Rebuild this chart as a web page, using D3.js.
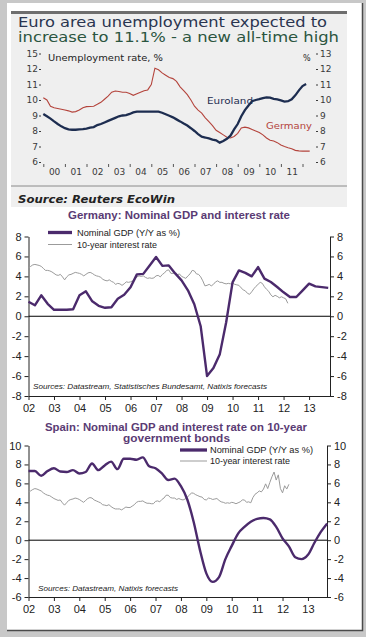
<!DOCTYPE html>
<html><head><meta charset="utf-8">
<script src="https://cdn.jsdelivr.net/npm/d3@7"></script>
<style>body{margin:0;background:#fff}svg{display:block}</style>
</head><body><svg id="c" width="366" height="637"></svg>
<script>
// ---------------- DATA ----------------
// Panel 1: unemployment rate, %, every 2 months from Jan 2000
const unempYearLabels = ["00","01","02","03","04","05","06","07","08","09","10","11"];
const unempTickValues = [13,12,11,10,9,8,7,6];
const unempLeftLabels = ["15","12","11","10","9","8","7","6"];
const unempRightLabels = ["13","12","11","10","9","8","7","6"];
const euroland = [
 9.10,8.95,8.80,8.62,8.45,8.30,
 8.18,8.10,8.08,8.08,8.10,8.12,
 8.15,8.22,8.25,8.38,8.45,8.55,
 8.65,8.75,8.85,8.95,9.00,9.02,
 9.10,9.20,9.25,9.25,9.25,9.25,
 9.25,9.25,9.25,9.18,9.08,8.98,
 8.88,8.75,8.62,8.48,8.35,8.18,
 8.00,7.80,7.63,7.58,7.52,7.45,
 7.40,7.25,7.35,7.50,7.70,8.10,
 8.45,8.95,9.35,9.65,9.92,10.00,
 10.05,10.12,10.17,10.15,10.08,10.04,
 9.98,9.90,9.92,10.05,10.30,10.62,
 10.90,11.03];
const germanyUnemp = [
 10.15,10.00,9.60,9.50,9.45,9.40,
 9.35,9.30,9.22,9.25,9.35,9.50,
 9.57,9.58,9.60,9.72,9.85,10.05,
 10.25,10.50,10.58,10.55,10.50,10.50,
 10.42,10.30,10.40,10.50,10.60,10.65,
 11.00,12.05,11.95,11.75,11.60,11.45,
 11.38,11.20,10.85,10.60,10.35,10.00,
 9.60,9.35,9.15,8.85,8.60,8.35,
 8.05,7.90,7.75,7.60,7.55,7.65,
 7.85,8.20,8.25,8.20,8.10,8.00,
 7.90,7.75,7.55,7.40,7.35,7.25,
 7.10,7.00,6.92,6.85,6.75,6.72,
 6.70,6.70,6.70];

// Panels 2 & 3: x labels, quarterly GDP from 2002Q1, monthly rates from Jan 2002
const gdpYearLabels = ["02","03","04","05","06","07","08","09","10","11","12","13"];
const deTicks = [-8,-6,-4,-2,0,2,4,6,8];
const esTicks = [-6,-4,-2,0,2,4,6,8,10];
const deGdp = [
 1.45,1.1,2.1,1.25, 0.65,0.65,0.65,0.7, 2.1,2.5,1.5,1.05, 0.85,0.9,1.75,2.15,
 2.9,4.2,4.25,5.1, 5.95,5.05,5.1,4.3, 3.6,2.6,1.2,-1.0, -6.0,-5.2,-3.8,-0.6,
 3.4,4.6,4.35,4.0, 4.93,3.77,3.43,2.93, 2.4,1.93,1.93,2.6, 3.27,3.0,2.92,2.85];
const deRate = [
 4.85,5.0,5.15,5.2,5.15,5.1,5.0,4.8,4.6,4.6,4.55,4.45,
 4.3,4.15,4.1,4.2,3.95,3.65,3.95,4.15,4.2,4.3,4.4,4.35,
 4.3,4.2,4.05,4.2,4.35,4.4,4.3,4.15,4.05,4.0,3.9,3.7,
 3.6,3.55,3.65,3.5,3.4,3.2,3.3,3.25,3.1,3.25,3.45,3.4,
 3.45,3.55,3.7,3.95,4.05,4.0,4.05,3.9,3.8,3.85,3.8,3.85,
 4.05,4.1,3.95,4.2,4.35,4.6,4.65,4.3,4.3,4.35,4.15,4.25,
 4.0,3.9,3.8,4.05,4.25,4.6,4.55,4.25,4.2,3.95,3.55,3.05,
 3.1,3.2,3.05,3.2,3.45,3.55,3.4,3.4,3.3,3.25,3.3,3.25,
 3.35,3.2,3.15,3.1,2.85,2.65,2.55,2.3,2.2,2.45,2.75,3.0,
 3.2,3.4,3.3,2.95,2.7,2.5,2.15,1.95,2.1,2.0,1.85,1.95,
 1.85,1.75,1.3];
const esGdp = [
 7.3,7.3,6.8,7.3, 7.6,7.25,7.2,7.4, 7.05,7.2,8.1,7.4, 7.9,8.3,7.5,8.6,
 8.6,8.5,8.75,7.8, 7.6,7.05,6.35,6.5, 5.7,4.3,1.95,-1.05, -3.5,-4.4,-3.9,-2.0,
 -0.6,0.7,1.4,1.95, 2.25,2.35,2.2,1.4, 0.2,-0.65,-1.8,-2.0, -1.55,-0.3,0.85,1.75];
const esRate = [
 5.1,5.2,5.35,5.45,5.4,5.3,5.2,5.0,4.85,4.75,4.7,4.55,
 4.4,4.3,4.2,4.25,3.95,3.7,3.95,4.2,4.3,4.35,4.45,4.4,
 4.3,4.15,4.0,4.2,4.4,4.5,4.45,4.25,4.15,4.05,3.95,3.75,
 3.7,3.65,3.75,3.55,3.4,3.3,3.3,3.3,3.2,3.35,3.5,3.45,
 3.45,3.6,3.75,4.0,4.1,4.1,4.15,4.0,3.9,3.9,3.85,3.85,
 4.1,4.15,4.05,4.3,4.45,4.75,4.75,4.5,4.45,4.45,4.3,4.4,
 4.3,4.25,4.35,4.55,4.75,5.0,4.95,4.8,4.7,4.6,4.55,4.3,
 4.25,4.45,4.4,4.3,4.35,4.4,4.2,4.05,4.0,3.9,3.95,3.9,
 4.0,3.95,3.85,3.95,4.05,4.25,4.25,4.0,4.05,3.95,4.5,4.85,
 5.0,5.2,5.1,5.4,5.95,5.45,6.1,6.7,7.2,6.35,6.9,5.45,
 5.0,5.75,5.4,5.9];

// ---------------- DRAW ----------------
const svg = d3.select("#c");
const SANS = "Liberation Sans, Arial, sans-serif";
const WIDE = "DejaVu Sans, Verdana, sans-serif";
const PURPLE = "#4b2a6c", TITLEP = "#5a3b74", GRAY = "#9b9b9b";

// frame
svg.append("rect").attr("width",366).attr("height",637).attr("fill","#c8c8c8");
svg.append("rect").attr("x",7).attr("y",3).attr("width",355).attr("height",627).attr("fill","#fff");
svg.append("path").attr("d","M7,630.5H362.5V3").attr("fill","none").attr("stroke","#4a4a4a").attr("stroke-width",1.5);

// ---- panel 1 ----
svg.append("rect").attr("x",11).attr("y",11).attr("width",336).attr("height",196).attr("fill","#efefef");
svg.append("rect").attr("x",11).attr("y",11).attr("width",336).attr("height",3).attr("fill","#6e6e6e");
svg.append("line").attr("x1",11).attr("x2",347).attr("y1",186).attr("y2",186).attr("stroke","#8a8a8a");

svg.append("text").attr("x",18).attr("y",26.5).attr("font-family",WIDE).attr("font-size",14)
  .attr("fill","#2a3550").attr("textLength",309).attr("lengthAdjust","spacingAndGlyphs")
  .text("Euro area unemployment expected to");
svg.append("text").attr("x",18).attr("y",42).attr("font-family",WIDE).attr("font-size",14)
  .attr("fill","#2b5540").attr("textLength",321).attr("lengthAdjust","spacingAndGlyphs")
  .text("increase to 11.1% - a new all-time high");

const xU = d3.scaleLinear().domain([2000, 2012.5]).range([43.3, 313.3]);
const yU = d3.scaleLinear().domain([6, 13]).range([162, 53.5]);

function styleAxis(g, font, size, color){
  g.attr("font-family", font).attr("font-size", size);
  g.selectAll("text").attr("fill", color);
  g.selectAll("line").attr("stroke", color);
  g.selectAll(".domain").attr("stroke", color);
}
let g = svg.append("g").attr("transform","translate(41,0)")
  .call(d3.axisLeft(yU).tickValues(unempTickValues).tickFormat((d,i)=>unempLeftLabels[i]).tickSize(2).tickPadding(1));
g.select(".domain").remove(); styleAxis(g, WIDE, 9, "#3a3a3a");
g = svg.append("g").attr("transform","translate(316,0)")
  .call(d3.axisRight(yU).tickValues(unempTickValues).tickFormat((d,i)=>unempRightLabels[i]).tickSize(2).tickPadding(2));
g.select(".domain").remove(); styleAxis(g, WIDE, 9, "#3a3a3a");
g = svg.append("g").attr("transform","translate(0,164)")
  .call(d3.axisBottom(xU).tickValues(d3.range(2000,2013)).tickFormat("").tickSize(3));
g.select(".domain").remove(); styleAxis(g, WIDE, 9, "#555");
g = svg.append("g").attr("transform","translate(0,168.5)")
  .call(d3.axisBottom(xU).tickValues(d3.range(2000,2012).map(y=>y+0.5)).tickFormat((d,i)=>unempYearLabels[i]).tickSize(0).tickPadding(0));
g.select(".domain").remove(); styleAxis(g, WIDE, 9, "#3a3a3a");

const lineU = d3.line().x(d=>xU(d[0])).y(d=>yU(d[1]));
svg.append("path").datum(germanyUnemp.map((v,i)=>[2000+i/6, v])).attr("d",lineU)
  .attr("fill","none").attr("stroke","#b4443c").attr("stroke-width",1.1);
svg.append("path").datum(euroland.map((v,i)=>[2000+i/6, v])).attr("d",lineU)
  .attr("fill","none").attr("stroke","#1d2d50").attr("stroke-width",2.3);

svg.append("text").attr("x",48).attr("y",61).attr("font-family",WIDE).attr("font-size",8)
  .attr("fill","#222").attr("textLength",115).attr("lengthAdjust","spacingAndGlyphs").text("Unemployment rate, %");
svg.append("text").attr("x",303).attr("y",61).attr("font-family",WIDE).attr("font-size",8)
  .attr("fill","#222").text("%");
svg.append("text").attr("x",207).attr("y",103.5).attr("font-family",WIDE).attr("font-size",9.5)
  .attr("fill","#1d2d50").attr("textLength",46).attr("lengthAdjust","spacingAndGlyphs").text("Euroland");
svg.append("text").attr("x",266).attr("y",129).attr("font-family",WIDE).attr("font-size",9.5)
  .attr("fill","#b4443c").attr("textLength",46).attr("lengthAdjust","spacingAndGlyphs").text("Germany");

svg.append("text").attr("x",18).attr("y",202.5).attr("font-family",WIDE).attr("font-size",10.5)
  .attr("font-weight","bold").attr("font-style","italic").attr("fill","#222")
  .attr("textLength",157).attr("lengthAdjust","spacingAndGlyphs").text("Source: Reuters EcoWin");

// ---- GDP panels ----
const hyphenFmt = d => String(d);
function gdpPanel(cfg){
  const x = d3.scaleLinear().domain(cfg.xDomain).range(cfg.xRange);
  const y = d3.scaleLinear().domain(cfg.yDomain).range(cfg.yRange);
  const L = cfg.xRange[0], R = cfg.xRange[1], B = cfg.yRange[0];
  cfg.titles.forEach(t => {
    svg.append("text").attr("x",t.x).attr("y",t.y).attr("font-family",SANS).attr("font-size",11.5)
      .attr("font-weight","bold").attr("fill",TITLEP).attr("textLength",t.w).attr("lengthAdjust","spacingAndGlyphs").text(t.text);
  });
  let a = svg.append("g").attr("transform",`translate(${L},0)`)
    .call(d3.axisLeft(y).tickValues(cfg.ticks).tickFormat(hyphenFmt).tickSize(4).tickSizeOuter(0).tickPadding(3));
  styleAxis(a, SANS, 11, "#222");
  a = svg.append("g").attr("transform",`translate(${R},0)`)
    .call(d3.axisRight(y).tickValues(cfg.ticks).tickFormat(hyphenFmt).tickSize(4).tickSizeOuter(0).tickPadding(3));
  styleAxis(a, SANS, 11, "#222");
  a = svg.append("g").attr("transform",`translate(0,${B})`)
    .call(d3.axisBottom(x).tickValues(d3.range(2002,2014)).tickFormat((d,i)=>gdpYearLabels[i]).tickSize(4).tickSizeOuter(0).tickPadding(4));
  styleAxis(a, SANS, 11, "#222");
  svg.append("line").attr("x1",L).attr("x2",R).attr("y1",y(0)).attr("y2",y(0)).attr("stroke","#000").attr("stroke-width",1);

  const line = d3.line().x(d=>x(d[0])).y(d=>y(d[1]));
  svg.append("path").datum(cfg.rate.map((v,i)=>[2002+i/12, v])).attr("d",line)
    .attr("fill","none").attr("stroke",GRAY).attr("stroke-width",1);
  svg.append("path").datum(cfg.gdp.map((v,i)=>[2002+i/4, v])).attr("d",line.curve(cfg.curve))
    .attr("fill","none").attr("stroke",PURPLE).attr("stroke-width",2.4).attr("stroke-linejoin","round");

  const lg = cfg.legend;
  svg.append("line").attr("x1",lg.x).attr("x2",lg.x+lg.len).attr("y1",lg.y1).attr("y2",lg.y1)
    .attr("stroke",PURPLE).attr("stroke-width",3.3);
  svg.append("line").attr("x1",lg.x).attr("x2",lg.x+lg.len).attr("y1",lg.y2).attr("y2",lg.y2)
    .attr("stroke",GRAY).attr("stroke-width",1);
  svg.append("text").attr("x",lg.tx).attr("y",lg.y1+3).attr("font-family",SANS).attr("font-size",9.5)
    .attr("fill","#222").attr("textLength",103).attr("lengthAdjust","spacingAndGlyphs").text("Nominal GDP (Y/Y as %)");
  svg.append("text").attr("x",lg.tx).attr("y",lg.y2+3).attr("font-family",SANS).attr("font-size",9.5)
    .attr("fill","#222").attr("textLength",80).attr("lengthAdjust","spacingAndGlyphs").text("10-year interest rate");
  svg.append("text").attr("x",cfg.src.x).attr("y",cfg.src.y).attr("font-family",SANS).attr("font-size",7.5)
    .attr("font-style","italic").attr("fill","#222").attr("textLength",cfg.src.w).attr("lengthAdjust","spacingAndGlyphs").text(cfg.src.text);
}

gdpPanel({
  xDomain:[2002, 2013.82], xRange:[28.5, 330],
  yDomain:[-8, 8], yRange:[396, 236.5], ticks: deTicks,
  gdp: deGdp, rate: deRate, curve: d3.curveLinear,
  titles:[{text:"Germany: Nominal GDP and interest rate", x:68, y:218.5, w:222}],
  legend:{x:48, len:24, tx:77, y1:232.5, y2:244.5},
  src:{text:"Sources: Datastream, Statistisches Bundesamt, Natixis forecasts", x:33, y:389, w:234}
});
gdpPanel({
  xDomain:[2002, 2013.75], xRange:[28.5, 327],
  yDomain:[-6, 10], yRange:[597, 445.5], ticks: esTicks,
  gdp: esGdp, rate: esRate, curve: d3.curveMonotoneX,
  titles:[{text:"Spain: Nominal GDP and interest rate on 10-year", x:45, y:430.5, w:262},
          {text:"government bonds", x:123, y:442, w:107}],
  legend:{x:180, len:27, tx:210, y1:450, y2:461},
  src:{text:"Sources: Datastream, Natixis forecasts", x:38, y:591, w:140}
});
</script></body></html>
